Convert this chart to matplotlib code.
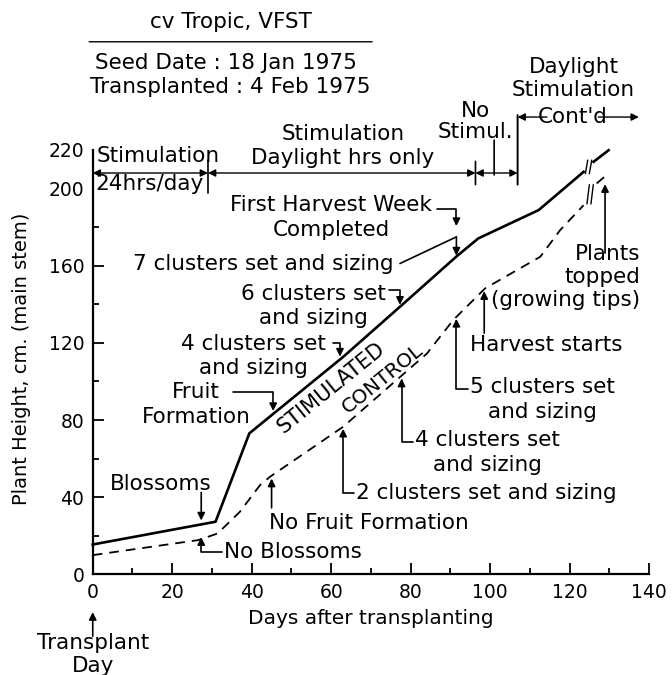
import numpy as np
import matplotlib.pyplot as plt

# ========== data ==========

# stimulated plants (solid line), broken near day 125
stim_days_a = [0, 30.9, 39.4, 63, 77.3, 91.6, 97, 112.2, 123.5]
stim_cm_a = [15.5, 27.3, 73.1, 112.7, 138.7, 164.9, 174.1, 188.8, 208.6]
stim_days_b = [126, 129.8]
stim_cm_b = [213.8, 219.8]

# control plants (dashed line)
ctrl_days_a = [0, 26.6, 31.4, 37, 42.1, 44.6, 63, 84.1, 90.7, 98.7, 112.6, 117.6, 123.5]
ctrl_cm_a = [10, 17.8, 21.2, 32.4, 46.3, 50.6, 76.5, 114.5, 131.8, 148.2, 164.6, 178.4, 191.3]
ctrl_days_b = [126.8, 129.8]
ctrl_cm_b = [202.6, 207.8]

# light treatment periods (day boundaries)
period_edges = [0, 29, 96.3, 106.9]
no_stim_mid = 101

x_ticks = [0, 20, 40, 60, 80, 100, 120, 140]
y_ticks = [0, 40, 80, 120, 160, 200, 220]

plt.rcParams['font.family'] = 'DejaVu Sans'
plt.rcParams['lines.scale_dashes'] = False
FS = 15.5


def stim(d):
    return np.interp(d, stim_days_a + stim_days_b, stim_cm_a + stim_cm_b)


def ctrl(d):
    return np.interp(d, ctrl_days_a + ctrl_days_b, ctrl_cm_a + ctrl_cm_b)


def arrow(xy, xytext, style='-|>', conn='arc3', lw=1.2):
    ax.annotate('', xy=xy, xytext=xytext, annotation_clip=False,
                arrowprops=dict(arrowstyle=style, color='black', lw=lw,
                                shrinkA=0, shrinkB=0, mutation_scale=11,
                                connectionstyle=conn))


fig = plt.figure(figsize=(6.72, 6.75), dpi=100)
ax = fig.add_axes([0.138, 0.149, 0.828, 0.629])
ax.set_xlim(0, 140)
ax.set_ylim(0, 220)

# ========== curves ==========
for d, c in [(stim_days_a, stim_cm_a), (stim_days_b, stim_cm_b)]:
    ax.plot(d, c, color='black', lw=1.9, clip_on=False, solid_joinstyle='round')
for d, c in [(ctrl_days_a, ctrl_cm_a), (ctrl_days_b, ctrl_cm_b)]:
    ax.plot(d, c, color='black', lw=1.3, ls=(0, (7, 5)), clip_on=False)

# break marks between the two pieces of each curve
for da, ca, db, cb, h in [(stim_days_a, stim_cm_a, stim_days_b, stim_cm_b, 3.5),
                          (ctrl_days_a, ctrl_cm_a, ctrl_days_b, ctrl_cm_b, 5)]:
    xm = (da[-1] + db[0]) / 2
    ym = (ca[-1] + cb[0]) / 2
    for off in (-0.5, 0.5):
        arrow((xm + off + 0.3, ym + h), (xm + off - 0.3, ym - h), style='-', lw=1.0)

# ========== axes ==========
for s in ['top', 'right']:
    ax.spines[s].set_visible(False)
for s in ['left', 'bottom']:
    ax.spines[s].set_linewidth(1.6)
ax.set_xticks(x_ticks)
ax.set_xticks(range(10, 140, 20), minor=True)
ax.set_yticks(y_ticks)
ax.set_yticks(range(20, 200, 40), minor=True)
ax.tick_params(which='major', direction='in', length=8, width=1.3, labelsize=13.5, pad=6)
ax.tick_params(which='minor', direction='in', length=4.5, width=1.3)
for t in ax.yaxis.get_major_ticks()[-2:]:
    t.tick1line.set_visible(False)

ax.text(-0.128, 0.509, 'Plant Height, cm. (main stem)', transform=ax.transAxes,
        rotation=90, ha='center', va='center', fontsize=14)
ax.text(0.5, -0.103, 'Days after transplanting', transform=ax.transAxes,
        ha='center', va='center', fontsize=14.5)

# ========== header ==========
ax.text(34.8, 286.3, 'cv Tropic, VFST', ha='center', va='center', fontsize=FS)
arrow((70.3, 276), (-0.9, 276), style='-', lw=1.0)
ax.text(33.5, 265, 'Seed Date : 18 Jan 1975', ha='center', va='center', fontsize=FS)
ax.text(34.5, 252.5, 'Transplanted : 4 Feb 1975', ha='center', va='center', fontsize=FS)

# treatment periods
y_per = 208
arrow((period_edges[0], y_per), (period_edges[1], y_per), style='<|-|>', lw=1.0)
arrow((period_edges[1], y_per), (period_edges[2], y_per), style='<|-|>', lw=1.0)
arrow((period_edges[2], y_per), (period_edges[3], y_per), style='<|-|>', lw=1.0)
arrow((period_edges[1], 197.6), (period_edges[1], 214.7), style='-', lw=1.2)
arrow((period_edges[2], 202), (period_edges[2], 214), style='-', lw=1.2)
arrow((no_stim_mid, 207), (no_stim_mid, 225), style='-', lw=1.2)
arrow((period_edges[3], 202), (period_edges[3], 238), style='-', lw=1.4)

ax.text(1.1, 217, 'Stimulation', ha='left', va='center', fontsize=FS)
ax.text(0.6, 202.5, '24hrs/day', ha='left', va='center', fontsize=FS)
ax.text(63, 222, 'Stimulation\nDaylight hrs only', ha='center', va='center',
        fontsize=FS, linespacing=1.2)
ax.text(96.3, 234.5, 'No\nStimul.', ha='center', va='center', fontsize=FS, linespacing=1.05)
ax.text(121, 257, 'Daylight\nStimulation', ha='center', va='center', fontsize=FS,
        linespacing=1.2)
ax.text(120.7, 237, "Cont'd", ha='center', va='center', fontsize=FS)
arrow((period_edges[3], 237), (114.3, 237), lw=1.0)
arrow((137.4, 237), (127.2, 237), lw=1.0)

# ========== curve labels ==========
ax.text(60.1, 96.8, 'STIMULATED', rotation=39, ha='center', va='center', fontsize=15)
ax.text(73, 101.4, 'CONTROL', rotation=39, ha='center', va='center', fontsize=14.5)

# stimulated notes
ax.text(17, 47, 'Blossoms', ha='center', va='center', fontsize=FS)
arrow((27.3, stim(27.3) + 2), (27.3, 42.5))
ax.text(26, 88.2, 'Fruit\nFormation', ha='center', va='center', fontsize=FS, linespacing=1.3)
arrow((45.4, stim(45.4) + 1.5), (35.2, 94.6), conn='angle,angleA=0,angleB=90,rad=0')
ax.text(40.5, 113.2, '4 clusters set\nand sizing', ha='center', va='center',
        fontsize=FS, linespacing=1.3)
arrow((62.2, stim(62.2) + 1.5), (60.4, 119.8), conn='angle,angleA=0,angleB=90,rad=0')
ax.text(55.5, 139.1, '6 clusters set\nand sizing', ha='center', va='center',
        fontsize=FS, linespacing=1.3)
arrow((77.3, stim(77.3) + 1), (74.6, 147.5), conn='angle,angleA=0,angleB=90,rad=0')
ax.text(10.2, 161.1, '7 clusters set and sizing', ha='left', va='center', fontsize=FS)
arrow((91.5, 174.9), (77.3, 161.1), style='-')
arrow((91.5, stim(91.5) + 0.5), (91.5, 174.9))
ax.text(60, 185, 'First Harvest Week\nCompleted', ha='center', va='center',
        fontsize=FS, linespacing=1.3)
arrow((91.5, 180.5), (86.5, 189.5), conn='angle,angleA=0,angleB=90,rad=0')

# control notes
ax.text(33, 11.7, 'No Blossoms', ha='left', va='center', fontsize=FS)
arrow((27.3, ctrl(27.3) + 1), (32.5, 11.7), conn='angle,angleA=0,angleB=90,rad=0')
ax.text(44.3, 26.4, 'No Fruit Formation', ha='left', va='center', fontsize=FS)
arrow((45, ctrl(45) - 1.5), (45, 34.5))
ax.text(66.2, 42, '2 clusters set and sizing', ha='left', va='center', fontsize=FS)
arrow((63, ctrl(63) - 1), (65.8, 42), conn='angle,angleA=0,angleB=90,rad=0')
ax.text(81, 63.1, '4 clusters set\nand sizing', ha='left', va='center', ma='center',
        fontsize=FS, linespacing=1.3)
arrow((77.7, ctrl(77.7) - 1.5), (80.5, 68.7), conn='angle,angleA=0,angleB=90,rad=0')
ax.text(94.9, 90.8, '5 clusters set\nand sizing', ha='left', va='center', ma='center',
        fontsize=FS, linespacing=1.3)
arrow((91.5, ctrl(91.5) - 1), (94.4, 96), conn='angle,angleA=0,angleB=90,rad=0')
ax.text(94.9, 118.8, 'Harvest starts', ha='left', va='center', fontsize=FS)
arrow((98.5, ctrl(98.5) - 1), (98.5, 125))
ax.text(137.7, 154, 'Plants\ntopped\n(growing tips)', ha='right', va='center', ma='right',
        fontsize=FS, linespacing=1.2)
arrow((128.9, ctrl(128.9) - 4), (128.9, 166.5))

# transplant day
ax.text(0, -41.6, 'Transplant\nDay', ha='center', va='center', fontsize=FS, linespacing=1.2)
arrow((0, -19.5), (0, -32))

fig.savefig('out.png', dpi=100)
